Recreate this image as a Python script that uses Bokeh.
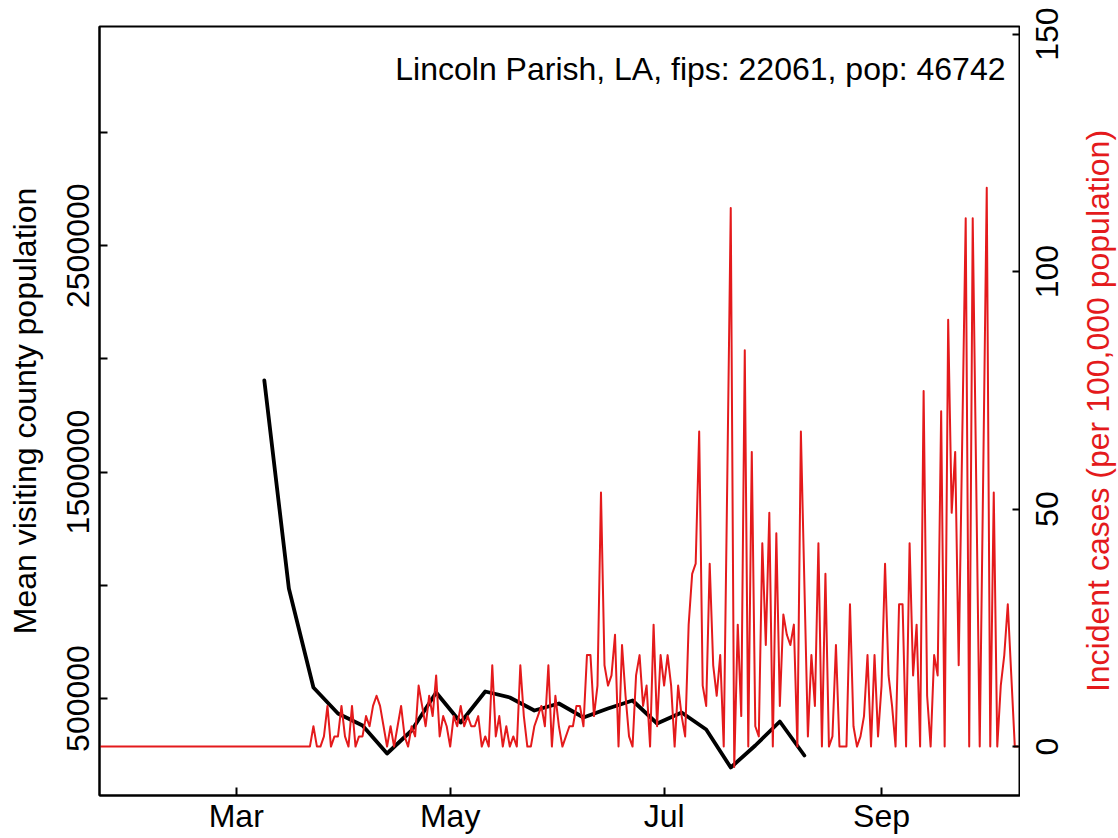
import math
import pandas as pd
from bokeh.plotting import figure
from bokeh.layouts import row
from bokeh.models import Range1d, LinearAxis, FixedTicker, Label, ColumnDataSource
from bokeh.core.properties import value
from bokeh.embed import file_html
from bokeh.resources import INLINE

# ---------------- data ----------------
county_title = "Lincoln Parish, LA, fips: 22061, pop: 46742"
population = 46742

# daily new cases (counts), starting 2020-01-22
case_start = "2020-01-22"
daily_cases = [0] * 60 + [
    0, 2, 0, 0, 1, 4, 0, 1, 1, 4, 1, 0, 4, 0, 1, 1, 3, 2, 4, 5, 4, 2, 0, 2, 0, 2, 4, 1, 0, 2, 1, 6,
    4, 2, 5, 3, 7, 1, 3, 2, 0, 3,
    2, 4, 2, 3, 2, 2, 3, 0, 1, 0,
    8, 1, 3, 0, 2, 0, 1, 0, 8, 3,
    0, 0, 2, 3, 4, 2, 8, 0, 5, 2,
    0, 1, 2, 2, 4, 4, 2, 9, 9, 3,
    6, 25, 8, 6, 7, 11, 0, 10, 5, 1,
    0, 7, 9, 4, 6, 0, 12, 2, 9, 6,
    9, 6, 0, 6, 3, 1, 12, 17, 18, 31,
    6, 4, 18, 8, 5, 9, 0,
    26, 53, -2, 12, 3, 39, 0, 29, 2, 1,
    20, 10, 23, 0, 21, 4, 13, 11, 10, 12,
    0, 31, 16, 1, 9, 4, 20, 0, 17, 0,
    1, 10, 0, 0, 0, 14, 2, 0, 1, 3,
    9, 0, 9, 1, 6, 18, 7, 4, 0, 14,
    14, 0, 20, 7, 12, 0, 35, 5, 0, 9,
    7, 33, 0, 42, 23, 29, 8, 30, 52, 0,
    52, 26, 0, 27, 55, 0, 25, 0, 6, 9,
    14, 7, 0, 0,
]
incident_per_100k = [c * 100000 / population for c in daily_cases]

# weekly mean visiting county population, starting 2020-03-09
visit_start = "2020-03-09"
mean_visiting = [1904600, 985900, 548600, 433700, 380700, 257100, 358700, 526500,
                 394000, 531000, 504400, 447000, 477900, 416000, 455800, 491200,
                 389600, 438200, 363100, 195200, 292400, 398400, 248200]

x_tick_dates = ["2020-03-01", "2020-05-01", "2020-07-01", "2020-09-01"]
x_tick_labels = ["Mar", "May", "Jul", "Sep"]
left_ticks = [500000, 1000000, 1500000, 2000000, 2500000, 3000000]
left_tick_labels = ["500000", "", "1500000", "", "2500000", ""]
right_ticks = [0, 50, 100, 150]
right_tick_labels = ["0", "50", "100", "150"]
right_axis_title = "Incident cases (per 100,000 population)"
left_axis_title = "Mean visiting county population"

# ---------------- layout constants ----------------
W, H = 1118, 838
FL, FR, FT, FB = 99, 1020, 26, 795          # frame edges in page pixels
X_START = pd.Timestamp("2020-01-22 00:00")
X_END = pd.Timestamp("2020-10-10 15:00")
Y_LEFT = (71550, 3468200)
Y_RIGHT = (-10.3, 151.6)

def date_at_px(px):
    return X_START + (X_END - X_START) * ((px - FL) / (FR - FL))

def left_val_at_px(py):
    return Y_LEFT[1] - (Y_LEFT[1] - Y_LEFT[0]) * ((py - FT) / (FB - FT))

FONT = "Liberation Sans"
FS = "32px"
RED = "#E41A1C"

# ---------------- sources ----------------
cases_src = ColumnDataSource(dict(
    date=pd.date_range(case_start, periods=len(incident_per_100k), freq="D"),
    val=incident_per_100k))
visit_src = ColumnDataSource(dict(
    date=pd.date_range(visit_start, periods=len(mean_visiting), freq="7D"),
    val=mean_visiting))

# ---------------- main plot ----------------
p = figure(width=FR, height=H, x_axis_type="datetime",
           output_backend="svg", toolbar_location=None,
           x_range=Range1d(X_START, X_END),
           y_range=Range1d(*Y_LEFT),
           min_border_left=FL, min_border_right=0,
           min_border_top=FT, min_border_bottom=H - FB)
p.background_fill_color = "white"
p.border_fill_color = "white"
p.outline_line_color = "black"
p.outline_line_width = 2
p.xgrid.visible = False
p.ygrid.visible = False

p.extra_y_ranges = {"cases": Range1d(*Y_RIGHT)}

p.line(x="date", y="val", source=visit_src, line_color="black", line_width=3.8,
       line_join="round", line_cap="round")
p.line(x="date", y="val", source=cases_src, line_color=RED, line_width=2,
       line_join="round", y_range_name="cases")

def style_axis(ax):
    ax.axis_line_color = "black"
    ax.axis_line_width = 2
    ax.major_tick_line_color = "black"
    ax.major_tick_line_width = 2
    ax.major_tick_in = 8
    ax.major_tick_out = 0
    ax.minor_tick_line_color = None
    ax.major_label_text_font = FONT
    ax.major_label_text_font_size = FS
    ax.major_label_text_color = "black"
    ax.axis_label_text_font = FONT
    ax.axis_label_text_font_size = FS
    ax.axis_label_text_font_style = "normal"
    ax.axis_label_text_color = "black"

# bottom axis
xax = p.xaxis[0]
style_axis(xax)
x_tick_ms = [int(pd.Timestamp(d).value // 10**6) for d in x_tick_dates]
xax.ticker = FixedTicker(ticks=x_tick_ms)
xax.major_label_overrides = {t: lab for t, lab in zip(x_tick_ms, x_tick_labels)}
xax.major_label_standoff = 2

# left axis
yax = p.yaxis[0]
style_axis(yax)
yax.ticker = FixedTicker(ticks=left_ticks)
yax.major_label_overrides = {t: lab for t, lab in zip(left_ticks, left_tick_labels)}
yax.major_label_orientation = "vertical"
yax.major_label_standoff = 10
yax.axis_label = left_axis_title
yax.axis_label_standoff = 22

# right axis: line + inward ticks (its labels are set in the side strip below)
rax = LinearAxis(y_range_name="cases", ticker=FixedTicker(ticks=right_ticks))
style_axis(rax)
rax.major_label_text_color = None
rax.major_label_text_font_size = "0px"
rax.major_label_standoff = 0
p.add_layout(rax, "right")

p.add_layout(Label(x=date_at_px(1005), y=left_val_at_px(68), text=county_title,
                   text_align="right", text_baseline="middle",
                   text_font=FONT, text_font_size=FS, text_color="black"))

# ---------------- right strip: right-axis tick labels and title ----------------
SW = W - FR
px_per_unit = (FB - FT) / (Y_RIGHT[1] - Y_RIGHT[0])
strip_y = (Y_RIGHT[0] - (H - FB) / px_per_unit, Y_RIGHT[1] + FT / px_per_unit)
s = figure(width=SW, height=H, output_backend="svg", toolbar_location=None,
           x_axis_type=None, y_axis_type=None,
           x_range=Range1d(0, SW), y_range=Range1d(*strip_y),
           min_border_left=0, min_border_right=0, min_border_top=0, min_border_bottom=0)
s.outline_line_color = None
s.background_fill_color = "white"
s.border_fill_color = "white"
s.xgrid.visible = False
s.ygrid.visible = False

for fig in (p, s):
    try:
        fig.frame_align = False
    except Exception:
        pass

s.text(x=[1046 - FR] * len(right_ticks), y=right_ticks, text=right_tick_labels,
       angle=math.pi / 2, text_align="center", text_baseline="middle",
       text_font=value(FONT), text_font_size=FS, text_color="black")
s.text(x=[1097 - FR], y=[(Y_RIGHT[0] + Y_RIGHT[1]) / 2], text=[right_axis_title],
       angle=math.pi / 2, text_align="center", text_baseline="middle",
       text_font=value(FONT), text_font_size=FS, text_color=RED)

layout = row(p, s, spacing=0)
open("out.html", "w").write(file_html(layout, INLINE))
